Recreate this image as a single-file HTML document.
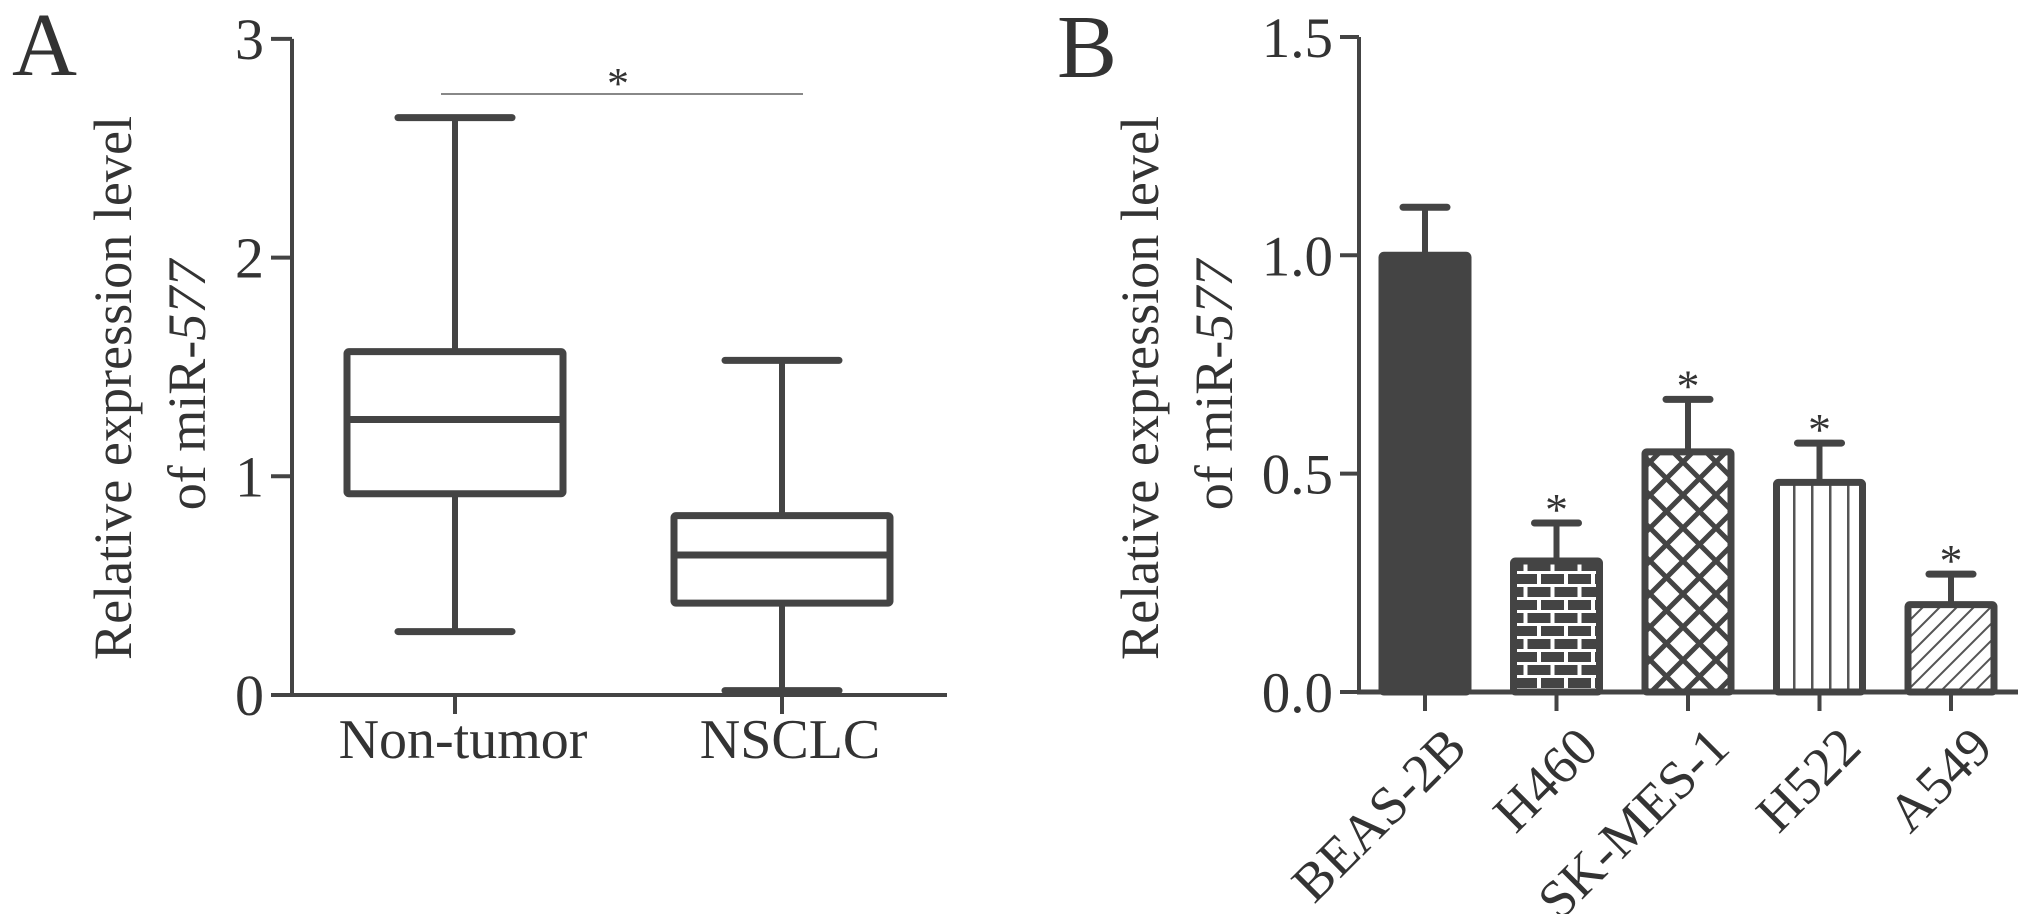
<!DOCTYPE html>
<html><head><meta charset="utf-8"><style>
html,body{margin:0;padding:0;background:#fff;}
svg{display:block;}
text{font-family:"Liberation Serif",serif;fill:#333;}
</style></head><body>
<svg id="fig" width="2031" height="914" viewBox="0 0 2031 914" xmlns="http://www.w3.org/2000/svg">
<defs>
<pattern id="brick" patternUnits="userSpaceOnUse" width="27" height="26" x="0" y="0">
<rect width="27" height="26" fill="#fff"/>
<rect x="2" y="2" width="23" height="10" fill="#444"/>
<rect x="-11.5" y="15" width="23" height="10" fill="#444"/>
<rect x="15.5" y="15" width="23" height="10" fill="#444"/>
</pattern>
<pattern id="cross" patternUnits="userSpaceOnUse" width="33" height="33">
<rect width="33" height="33" fill="#fff"/>
<path d="M0,0 L33,33 M33,0 L0,33" stroke="#444" stroke-width="5"/>
</pattern>
<pattern id="vlines" patternUnits="userSpaceOnUse" width="18" height="20" x="1775">
<rect width="18" height="20" fill="#fff"/>
<rect x="0" width="2.5" height="20" fill="#555"/>
</pattern>
<pattern id="diag" patternUnits="userSpaceOnUse" width="12" height="12" patternTransform="rotate(45)">
<rect width="12" height="12" fill="#fff"/>
<rect x="0" width="2" height="12" fill="#555"/>
</pattern>
</defs>
<g id="panelA"></g>
<g id="panelB"></g>
</svg>
<script>
// Panel A data (box plot)
const boxCategories = ["Non-tumor", "NSCLC"];
const boxMax = [2.64, 1.53];
const boxQ3 = [1.57, 0.82];
const boxMedian = [1.26, 0.64];
const boxQ1 = [0.92, 0.42];
const boxMin = [0.29, 0.02];
const aTicks = [0, 1, 2, 3];
const aTickLabels = ["0", "1", "2", "3"];

// Panel B data (bar chart)
const barCategories = ["BEAS-2B", "H460", "SK-MES-1", "H522", "A549"];
const barValues = [1.0, 0.30, 0.55, 0.48, 0.20];
const barErrors = [0.11, 0.087, 0.12, 0.09, 0.07];
const barStars = [false, true, true, true, true];
const bTicks = [0, 0.5, 1.0, 1.5];
const bTickLabels = ["0.0", "0.5", "1.0", "1.5"];

const NS = "http://www.w3.org/2000/svg";
const C = "#444";
const FF = '"Liberation Serif", serif';
function mk(parent, tag, attrs, txt) {
  const e = document.createElementNS(NS, tag);
  for (const k in attrs) e.setAttribute(k, attrs[k]);
  if (tag === 'text') e.setAttribute('font-family', FF);
  if (txt !== undefined) e.textContent = txt;
  parent.appendChild(e);
  return e;
}

// ---------- Panel A ----------
const A = document.getElementById('panelA');
const ay = v => 695 - v * 218.7;
const ax = i => 455 + i * 327;
let t = mk(A, 'text', {x: 12, y: 75, 'font-size': 90});
t.textContent = 'A';


let l = mk(A, 'line', {x1: 292, y1: ay(3), x2: 292, y2: ay(0) + 2, stroke: C, 'stroke-width': 4});


l = mk(A, 'line', {x1: 290, y1: ay(0), x2: 947, y2: ay(0), stroke: C, 'stroke-width': 4});


aTicks.forEach((v, i) => {
  const tk = mk(A, 'line', {x1: 271, y1: ay(v), x2: 292, y2: ay(v), stroke: C, 'stroke-width': 4});
  
  
  const tl = mk(A, 'text', {x: 264, y: ay(v) + 20, 'font-size': 58, 'text-anchor': 'end'}, aTickLabels[i]);
  
  
});
let tt = mk(A, 'text', {transform: 'translate(131,388) rotate(-90)', 'font-size': 54, 'text-anchor': 'middle', textLength: 544, lengthAdjust: 'spacingAndGlyphs'}, 'Relative expression level');


tt = mk(A, 'text', {transform: 'translate(205,385) rotate(-90)', 'font-size': 54, 'text-anchor': 'middle'});
mk(tt, 'tspan', {}, 'of miR-');
mk(tt, 'tspan', {'font-style': 'italic'}, '577');


boxCategories.forEach((c, i) => {
  const cx = ax(i);
  const g = mk(A, 'g', {});
  
  
  mk(g, 'line', {x1: cx, y1: ay(boxMax[i]), x2: cx, y2: ay(boxMin[i]), stroke: C, 'stroke-width': 6});
  mk(g, 'line', {x1: cx - 57, y1: ay(boxMax[i]), x2: cx + 57, y2: ay(boxMax[i]), stroke: C, 'stroke-width': 7, 'stroke-linecap': 'round'});
  mk(g, 'line', {x1: cx - 57, y1: ay(boxMin[i]), x2: cx + 57, y2: ay(boxMin[i]), stroke: C, 'stroke-width': 7, 'stroke-linecap': 'round'});
  mk(g, 'rect', {x: cx - 108, y: ay(boxQ3[i]), width: 216, height: ay(boxQ1[i]) - ay(boxQ3[i]), fill: '#fff', stroke: C, 'stroke-width': 7, rx: 2});
  mk(g, 'line', {x1: cx - 108, y1: ay(boxMedian[i]), x2: cx + 108, y2: ay(boxMedian[i]), stroke: C, 'stroke-width': 7});
  const tk = mk(A, 'line', {x1: cx, y1: ay(0), x2: cx, y2: ay(0) + 19, stroke: C, 'stroke-width': 4});
  
  
  const xl = mk(A, 'text', {x: cx + 8, y: 758, 'font-size': 56, 'text-anchor': 'middle'}, c);
  
  
});
l = mk(A, 'line', {x1: 441, y1: 94, x2: 803, y2: 94, stroke: '#888', 'stroke-width': 2});


t = mk(A, 'text', {x: 618, y: 98, 'font-size': 44, 'text-anchor': 'middle'}, '*');



// ---------- Panel B ----------
const B = document.getElementById('panelB');
const by = v => 692 - v * 436.7;
const bx = i => 1425 + i * 131.5;
const fills = [C, 'url(#brick)', 'url(#cross)', 'url(#vlines)', 'url(#diag)'];
t = mk(B, 'text', {x: 1057, y: 77, 'font-size': 90}, 'B');


tt = mk(B, 'text', {transform: 'translate(1158,388) rotate(-90)', 'font-size': 54, 'text-anchor': 'middle', textLength: 544, lengthAdjust: 'spacingAndGlyphs'}, 'Relative expression level');


tt = mk(B, 'text', {transform: 'translate(1232,385) rotate(-90)', 'font-size': 54, 'text-anchor': 'middle'});
mk(tt, 'tspan', {}, 'of miR-');
mk(tt, 'tspan', {'font-style': 'italic'}, '577');


bTicks.forEach((v, i) => {
  const tk = mk(B, 'line', {x1: 1340, y1: by(v), x2: 1359, y2: by(v), stroke: C, 'stroke-width': 4});
  
  
  const tl = mk(B, 'text', {x: 1333, y: by(v) + 20, 'font-size': 57, 'text-anchor': 'end'}, bTickLabels[i]);
  
  
});
barCategories.forEach((c, i) => {
  const cx = bx(i);
  const g = mk(B, 'g', {});
  
  
  const top = by(barValues[i] + barErrors[i]);
  mk(g, 'line', {x1: cx, y1: top, x2: cx, y2: by(barValues[i]), stroke: C, 'stroke-width': 6});
  mk(g, 'line', {x1: cx - 22, y1: top, x2: cx + 22, y2: top, stroke: C, 'stroke-width': 7, 'stroke-linecap': 'round'});
  mk(g, 'rect', {x: cx - 43, y: by(barValues[i]), width: 86, height: by(0) - by(barValues[i]), fill: fills[i], stroke: C, 'stroke-width': 7, rx: 2});
  if (barStars[i]) {
    const s = mk(B, 'text', {x: cx, y: top + 2, 'font-size': 46, 'text-anchor': 'middle'}, '*');
    
    
  }
  const tk = mk(B, 'line', {x1: cx, y1: by(0), x2: cx, y2: by(0) + 19, stroke: C, 'stroke-width': 4});
  
  
  const xl = mk(B, 'text', {transform: 'translate(' + (cx + 44) + ',750) rotate(-45)', 'font-size': 54, 'text-anchor': 'end'}, c);
  
  
});
l = mk(B, 'line', {x1: 1359, y1: by(1.5), x2: 1359, y2: by(0) + 2, stroke: C, 'stroke-width': 4});


l = mk(B, 'line', {x1: 1357, y1: by(0), x2: 2018, y2: by(0), stroke: C, 'stroke-width': 5});


</script>
</body></html>
